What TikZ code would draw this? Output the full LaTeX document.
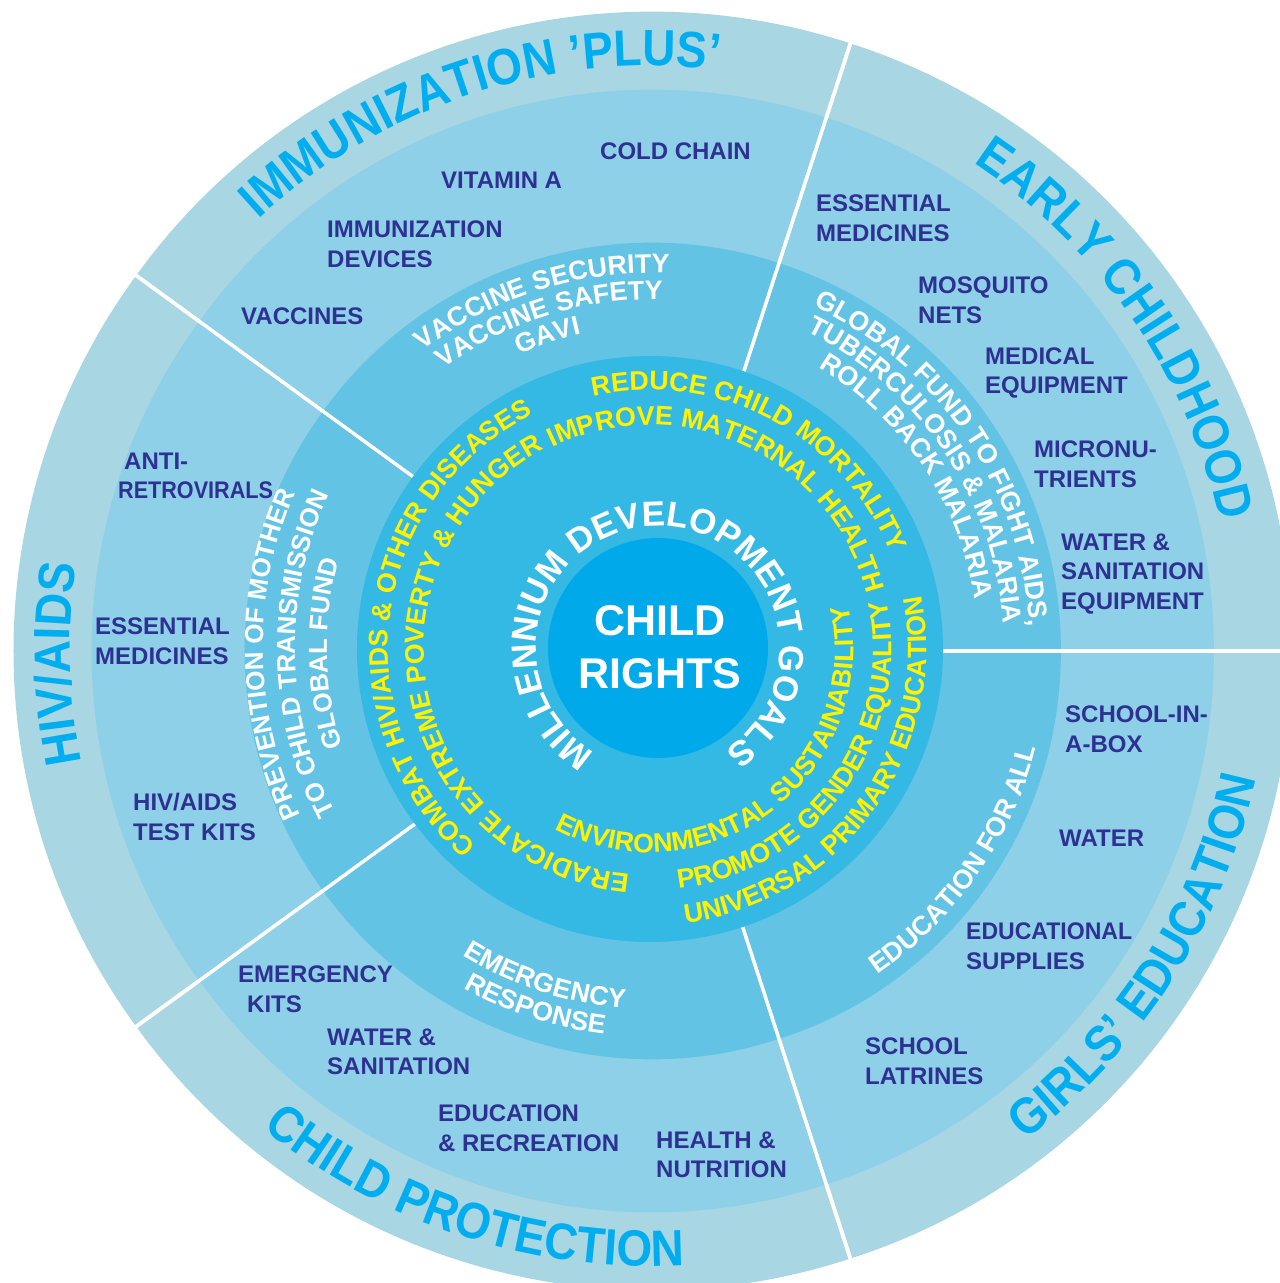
\documentclass[tikz,border=0pt]{standalone}
\usepackage{fontspec}
\usepackage{graphicx}
\setmainfont{Liberation Sans}
\newfontfamily\libsans{Liberation Sans}
\newfontfamily\titlesans[FakeStretch=0.9]{Liberation Sans}
\usetikzlibrary{decorations.text}
\definecolor{outerc}{HTML}{A9D6E3}
\definecolor{ringiii}{HTML}{8ED0E7}
\definecolor{ringii}{HTML}{63C3E5}
\definecolor{mdgc}{HTML}{33B9E4}
\definecolor{corec}{HTML}{00AAEA}
\definecolor{titlec}{HTML}{00AEEF}
\definecolor{itemc}{HTML}{2E3192}
\definecolor{mdgy}{HTML}{FFF200}
\newcommand\tfont{\titlesans\bfseries\fontsize{51}{51}\selectfont\color{titlec}}
\newcommand\yfont{\libsans\bfseries\fontsize{26.8}{26.8}\selectfont\color{mdgy}}
\newcommand\wfont{\libsans\bfseries\fontsize{26.8}{26.8}\selectfont\color{white}}
\newcommand\whfont{\libsans\bfseries\fontsize{26}{26}\selectfont\color{white}}
\newcommand\mfont{\libsans\bfseries\fontsize{35}{35}\selectfont\color{white}}
% clockwise arc text (tops outward): centre angle, radius, half span, text
\newcommand\cwtext[4]{\path[decorate,decoration={text along path,text align=center,text={#4}}] ({#1+#3}:#2pt) arc[start angle={#1+#3}, end angle={#1-#3}, radius=#2pt];}
% counter-clockwise arc text (tops inward)
\newcommand\ccwtext[4]{\path[decorate,decoration={text along path,text align=center,text={#4}}] ({#1-#3}:#2pt) arc[start angle={#1-#3}, end angle={#1+#3}, radius=#2pt];}
\tikzset{
  item/.style={font=\libsans\bfseries\fontsize{24}{29.5}\selectfont, text=itemc, align=left, anchor=west, inner sep=0pt},
  centre/.style={font=\libsans\bfseries\fontsize{43}{53.6}\selectfont, text=white, align=center, inner sep=0pt}
}
\begin{document}
\begin{tikzpicture}[x=1pt,y=1pt]
\clip (-652,-635) rectangle (628,648);
% ---- five exploded sectors ----
\begin{scope}[shift={(1pt,-3pt)}]
\foreach \b in {36,108,180,252,324}{
  \begin{scope}[shift={(\b:3.5pt)}]
    \fill[outerc] (0,0) -- ({\b-36}:636pt) arc[start angle={\b-36}, end angle={\b+36}, radius=636pt] -- cycle;
    \fill[ringiii] (0,0) -- ({\b-36}:558pt) arc[start angle={\b-36}, end angle={\b+36}, radius=558pt] -- cycle;
    \fill[ringii] (0,0) -- ({\b-36}:405pt) arc[start angle={\b-36}, end angle={\b+36}, radius=405pt] -- cycle;
  \end{scope}
}
\end{scope}
% ---- MDG ring and core ----
\fill[mdgc] (-2,-1) circle[radius=293pt];
\fill[corec] (6,0) circle[radius=110pt];
% ---- section titles ----
\cwtext{108}{582}{60}{|\tfont|IMMUNIZATION ’PLUS’}
\cwtext{34.5}{582}{60}{|\tfont|EARLY CHILDHOOD}
\cwtext{181.5}{582}{60}{|\tfont|HIV/AIDS}
\ccwtext{252}{618}{60}{|\tfont|CHILD PROTECTION}
\ccwtext{-32.5}{618}{60}{|\tfont|GIRLS’ EDUCATION}
% ---- ring 2 white texts ----
\cwtext{107.5}{375}{60}{|\wfont|VACCINE SECURITY}
\cwtext{107.5}{348.5}{60}{|\wfont|VACCINE SAFETY}
\cwtext{108.5}{322}{60}{|\wfont|GAVI}
\cwtext{34}{378}{60}{|\wfont|GLOBAL FUND TO FIGHT AIDS,}
\cwtext{34}{352}{60}{|\wfont|TUBERCULOSIS {\&} MALARIA}
\cwtext{34}{326}{60}{|\wfont|ROLL BACK MALARIA}
\cwtext{181}{389}{60}{|\whfont|PREVENTION OF MOTHER}
\cwtext{181}{357}{60}{|\whfont|TO CHILD TRANSMISSION}
\cwtext{181}{325}{60}{|\whfont|GLOBAL FUND}
\ccwtext{252}{361}{60}{|\wfont|EMERGENCY}
\ccwtext{252}{389}{60}{|\wfont|RESPONSE}
\ccwtext{-35}{397}{60}{|\wfont|EDUCATION FOR ALL}
% ---- MDG yellow texts ----
\begin{scope}[shift={(-2pt,-1pt)}]
\cwtext{62.2}{259}{80}{|\yfont|REDUCE CHILD MORTALITY}
\cwtext{65}{224}{85}{|\yfont|IMPROVE MATERNAL HEALTH}
\cwtext{172.5}{262}{80}{|\yfont|COMBAT HIV/AIDS {\&} OTHER DISEASES}
\cwtext{191.4}{226}{90}{|\yfont|ERADICATE EXTREME POVERTY {\&} HUNGER}
\ccwtext{-35.7}{276.5}{80}{|\yfont|UNIVERSAL PRIMARY EDUCATION}
\ccwtext{-35.7}{241.5}{80}{|\yfont|PROMOTE GENDER EQUALITY}
\ccwtext{-52.7}{203.5}{85}{|\yfont|ENVIRONMENTAL SUSTAINABILITY}
\end{scope}
% ---- core texts ----
\begin{scope}[shift={(6pt,0pt)}]
\cwtext{91}{122}{178}{|\mfont|MILLENNIUM DEVELOPMENT GOALS}
\end{scope}
\node[centre] (core) at (8,1) {CHILD\\RIGHTS};
% ---- items ----
\node[item] (coldchain) at (-52,497) {COLD CHAIN};
\node[item] (vitamina) at (-211,468) {VITAMIN A};
\node[item] (imdev) at (-325,404) {IMMUNIZATION\\DEVICES};
\node[item] (vaccines) at (-411,332) {VACCINES};
\node[item] (ecmed) at (164,430) {ESSENTIAL\\MEDICINES};
\node[item] (nets) at (266,348) {MOSQUITO\\NETS};
\node[item] (medeq) at (333,275) {MEDICAL\\EQUIPMENT};
\node[item] (micro) at (382,184) {MICRONU-\\TRIENTS};
\node[item] (wseq) at (409,74) {WATER \&\\SANITATION\\EQUIPMENT};
\node[item] (sib) at (413,-81) {SCHOOL-IN-\\A-BOX};
\node[item] (water) at (407,-190) {WATER};
\node[item] (edsup) at (314,-298) {\scalebox{0.96}[1]{EDUCATIONAL}\\SUPPLIES};
\node[item] (latr) at (213,-413) {SCHOOL\\LATRINES};
\node[item] (health) at (4,-507) {HEALTH \&\\NUTRITION};
\node[item] (edrec) at (-214,-480) {EDUCATION\\\& RECREATION};
\node[item] (wsan) at (-325,-404) {WATER \&\\SANITATION};
\node[item] (ekits) at (-414,-341) {EMERGENCY\\\hspace*{9pt}KITS};
\node[item] (tkits) at (-519,-169) {HIV/AIDS\\TEST KITS};
\node[item] (hivmed) at (-557,7) {ESSENTIAL\\MEDICINES};
\node[item] (arv) at (-534,172) {\hspace*{6pt}ANTI-\\\scalebox{0.9}[1]{RETROVIRALS}};
\end{tikzpicture}
\end{document}
